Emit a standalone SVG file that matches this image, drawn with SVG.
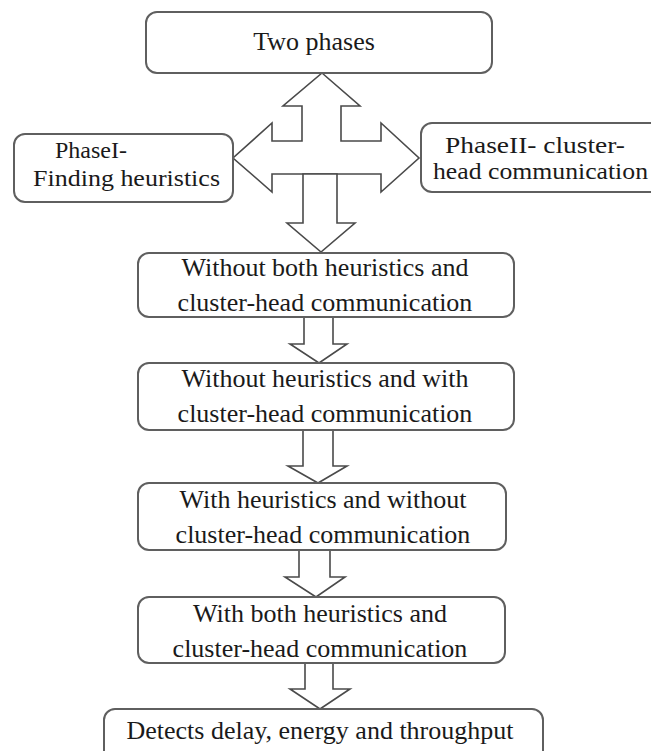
<svg xmlns="http://www.w3.org/2000/svg" width="651" height="751" viewBox="0 0 651 751">
  <style>
    .box { fill: #ffffff; stroke: #5f5f5f; stroke-width: 2; }
    .arr { fill: #ffffff; stroke: #4a4a4a; stroke-width: 1.6; stroke-linejoin: miter; }
    .t { font-family: 'Liberation Serif', 'DejaVu Serif', serif; font-size: 26px; fill: #1a1a1a; }
    .s { font-size: 24px; }
    .c { text-anchor: middle; }
  </style>
  <rect width="651" height="751" fill="#ffffff"/>
  <g id="connectors">
    <polygon class="arr" points="322,73 360,106 341,106 341,141 381,141 381,123 419,158 381,192 381,174 272,174 272,192 233,158 272,123 272,141 302,141 302,106 283,106"/>
    <polygon class="arr" points="303,174 337,174 337,223 355,223 321,252 287,223 303,223"/>
    <polygon class="arr" points="304,317 333,317 333,344 347,344 319,363 290,344 304,344"/>
    <polygon class="arr" points="303,430 333,430 333,466 347,466 318,483 288,466 303,466"/>
    <polygon class="arr" points="299,550 330,550 330,577 345,577 316,597 285,577 299,577"/>
    <polygon class="arr" points="305,663 333,663 333,689 350,689 320,709 290,689 305,689"/>
  </g>
  <g id="two-phases">
    <rect class="box" x="146" y="12" width="346" height="61" rx="11"/>
    <text class="t c" x="314" y="50" font-family="Liberation Serif, serif">Two phases</text>
  </g>
  <g id="phase1">
    <rect class="box" x="14" y="134" width="219" height="68" rx="11"/>
    <text class="t s" x="55" y="158" font-family="Liberation Serif, serif">PhaseI-</text>
    <text class="t s" x="33" y="186" font-family="Liberation Serif, serif" textLength="187" lengthAdjust="spacingAndGlyphs">Finding heuristics</text>
  </g>
  <g id="phase2">
    <rect class="box" x="421" y="123" width="245" height="69" rx="11"/>
    <text class="t s" x="445" y="153" font-family="Liberation Serif, serif" textLength="180" lengthAdjust="spacingAndGlyphs">PhaseII- cluster-</text>
    <text class="t s" x="433" y="179" font-family="Liberation Serif, serif" textLength="215" lengthAdjust="spacingAndGlyphs">head communication</text>
  </g>
  <g id="without-both">
    <rect class="box" x="138" y="253" width="376" height="64" rx="11"/>
    <text class="t c" x="325" y="276" font-family="Liberation Serif, serif">Without both heuristics and</text>
    <text class="t c" x="325" y="311" font-family="Liberation Serif, serif">cluster-head communication</text>
  </g>
  <g id="without-heuristics">
    <rect class="box" x="138" y="363" width="376" height="67" rx="11"/>
    <text class="t c" x="325" y="387" font-family="Liberation Serif, serif">Without heuristics and with</text>
    <text class="t c" x="325" y="422" font-family="Liberation Serif, serif">cluster-head communication</text>
  </g>
  <g id="with-heuristics">
    <rect class="box" x="138" y="483" width="368" height="67" rx="11"/>
    <text class="t c" x="323" y="508" font-family="Liberation Serif, serif">With heuristics and without</text>
    <text class="t c" x="323" y="543" font-family="Liberation Serif, serif">cluster-head communication</text>
  </g>
  <g id="with-both">
    <rect class="box" x="138" y="597" width="367" height="66" rx="11"/>
    <text class="t c" x="320" y="622" font-family="Liberation Serif, serif">With both heuristics and</text>
    <text class="t c" x="320" y="657" font-family="Liberation Serif, serif">cluster-head communication</text>
  </g>
  <g id="detects">
    <rect class="box" x="104" y="709" width="439" height="62" rx="11"/>
    <text class="t c" x="320" y="739" font-family="Liberation Serif, serif">Detects delay, energy and throughput</text>
  </g>
</svg>
